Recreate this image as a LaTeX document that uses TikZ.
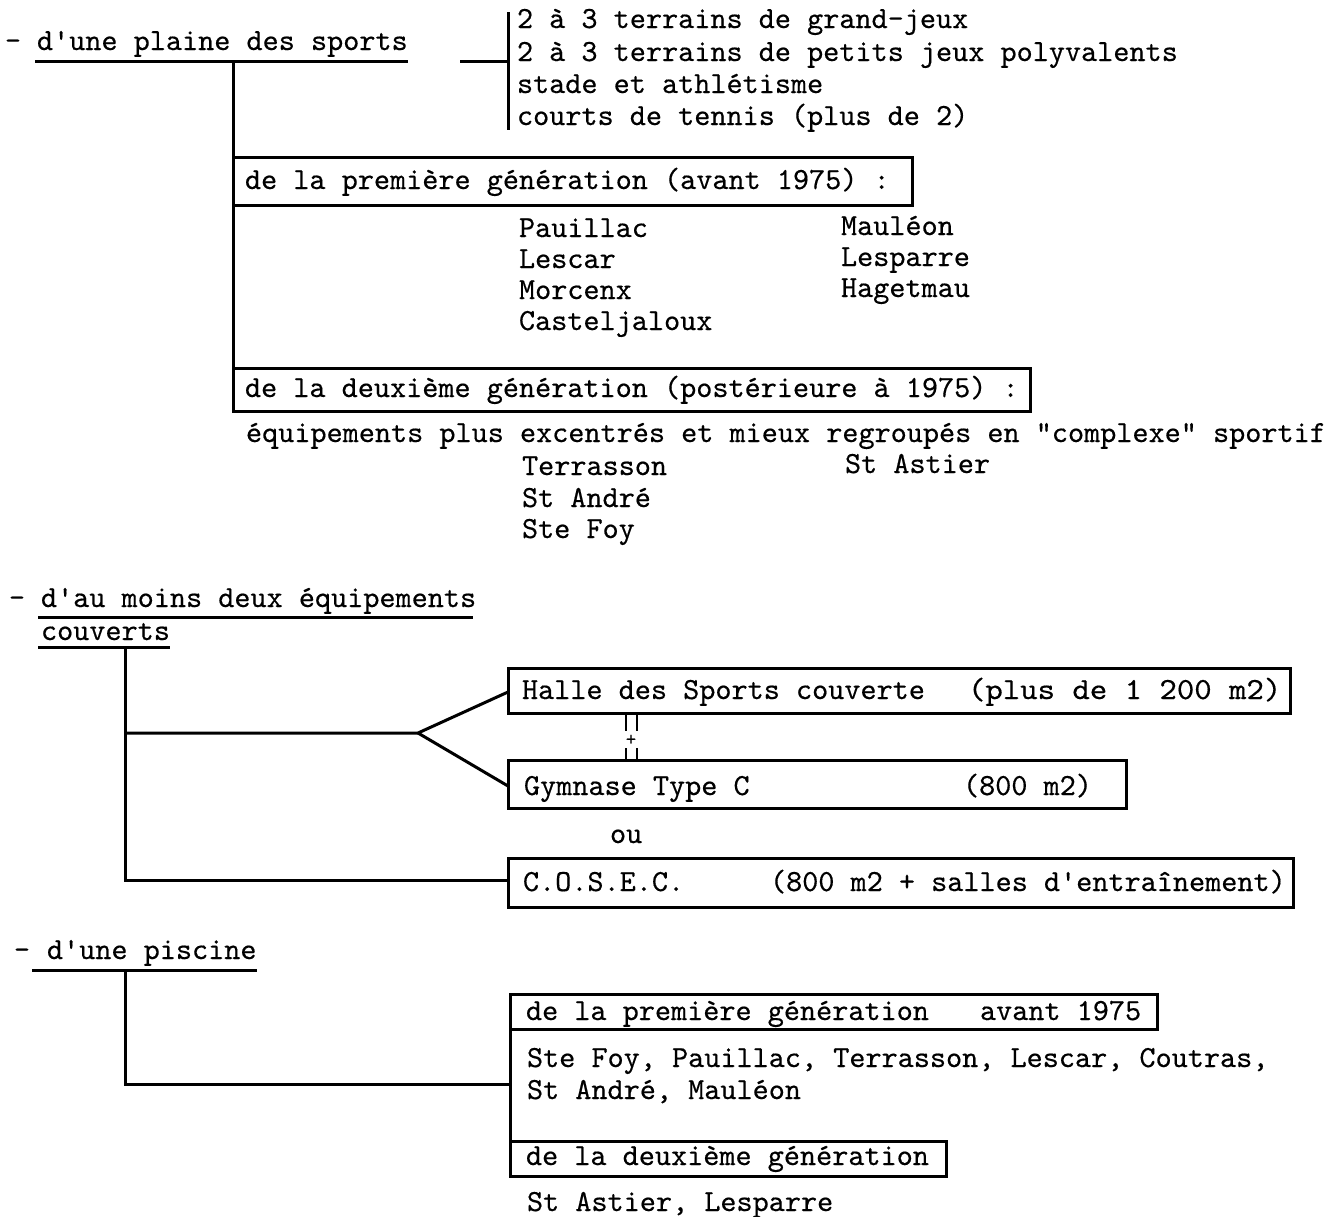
\documentclass[tikz,border=0pt]{standalone}
\usepackage{fontspec}
\usepackage{graphicx}
\setmonofont{lmmono10-regular}[Extension=.otf,FakeBold=0.4]
\begin{document}
\begin{tikzpicture}[x=1pt,y=-1pt,
  txt/.style={anchor=base west, inner sep=0pt, outer sep=0pt, font=\ttfamily\fontsize{30.7}{36}\selectfont},
  dsh/.style={anchor=base, inner sep=0pt, outer sep=0pt, font=\ttfamily\fontsize{30.7}{36}\selectfont},
  boxn/.style={draw, line width=3pt, inner sep=0pt, outer sep=0pt, anchor=north west},
  ln/.style={line width=3pt},
  thin/.style={line width=2.5pt}]
\fill[white] (0,0) rectangle (1343,1216);
\useasboundingbox (0,0) rectangle (1343,1216);

% ---------- Section 1 ----------
\node[dsh] (d1) at (13,50) {-};
\node[txt] (t1) at (37,50) {d'une plaine des sports};
\coordinate (u1a) at (35,61);
\coordinate (u1b) at (408,61);
\draw[ln] (u1a) -- (u1b);
\coordinate (s1a) at (460,61);
\coordinate (s1b) at (508,61);
\coordinate (bar1t) at (508,12);
\coordinate (bar1b) at (508,130);
\draw[ln] (s1a) -- (s1b);
\draw[ln] (bar1t) -- (bar1b);
\node[txt] (l1) at (517,28) {2 à 3 terrains de grand-jeux};
\node[txt] (l2) at (517,61) {2 à 3 terrains de petits jeux polyvalents};
\node[txt] (l3) at (517,93) {stade et athlétisme};
\node[txt] (l4) at (517,125) {courts de tennis (plus de 2)};

\node[boxn, minimum width=679pt, minimum height=48pt] (b1) at (233,157) {};
\node[txt] (b1t) at (245,189) {de la première génération (avant 1975) :};
\node[txt] (p1) at (519,237) {Pauillac};
\node[txt] (p2) at (519,268) {Lescar};
\node[txt] (p3) at (519,299) {Morcenx};
\node[txt] (p4) at (519,330) {Casteljaloux};
\node[txt] (p5) at (841,235) {Mauléon};
\node[txt] (p6) at (841,266) {Lesparre};
\node[txt] (p7) at (841,297) {Hagetmau};

\node[boxn, minimum width=797pt, minimum height=43pt] (b2) at (233,368) {};
\node[txt] (b2t) at (245,397) {de la deuxième génération (postérieure à 1975) :};
\node[txt] (eq) at (246,442) {équipements plus excentrés et mieux regroupés en "complexe" sportif};
\node[txt] (q1) at (522,475) {Terrasson};
\node[txt] (q2) at (845,473) {St Astier};
\node[txt] (q3) at (522,507) {St André};
\node[txt] (q4) at (522,538) {Ste Foy};

\coordinate (v1t) at (233,61);
\draw[ln] (v1t) -- (b2.south west);

% ---------- Section 2 ----------
\node[dsh] (d2) at (17,607) {-};
\node[txt] (t2) at (41,607) {d'au moins deux équipements};
\coordinate (u2a) at (38,617);
\coordinate (u2b) at (473,617);
\draw[ln] (u2a) -- (u2b);
\node[txt] (t2b) at (41,640) {couverts};
\coordinate (u3a) at (38,647);
\coordinate (u3b) at (170,647);
\draw[ln] (u3a) -- (u3b);

\node[boxn, minimum width=782pt, minimum height=45pt] (h) at (508,668) {};
\node[txt] (ht) at (522,699) {Halle des Sports couverte};
\node[txt] (hs) at (968,699) {\scalebox{1.08}[1]{(plus de 1 200 m2)}};

\node[boxn, minimum width=618pt, minimum height=48pt] (g) at (508,760) {};
\node[txt] (gt) at (524,795) {Gymnase Type C};
\node[txt] (gs) at (963,795) {(800 m2)};

\node[txt] (ou) at (610,843) {ou};

\node[boxn, minimum width=785pt, minimum height=49pt] (c) at (508,858) {};
\node[txt] (ct) at (523,891) {C.O.S.E.C.};
\node[txt] (cs) at (770,891) {(800 m2 + salles d'entraînement)};

% plus sign between halle and gymnase
\coordinate (pa1) at (626,713); \coordinate (pa2) at (626,731);
\coordinate (pb1) at (637,713); \coordinate (pb2) at (637,731);
\coordinate (pc1) at (626,748); \coordinate (pc2) at (626,760);
\coordinate (pd1) at (637,748); \coordinate (pd2) at (637,760);
\draw[thin] (pa1) -- (pa2);
\draw[thin] (pb1) -- (pb2);
\draw[thin] (pc1) -- (pc2);
\draw[thin] (pd1) -- (pd2);
\node[anchor=center, inner sep=0pt, font=\ttfamily\fontsize{20}{22}\selectfont] (plus) at (631,740) {+};

\coordinate (v2b) at (125,880);
\coordinate (v2t) at (125,647);
\coordinate (fk0) at (125,733);
\coordinate (fk) at (418,733);
\coordinate (ha) at (508,692);
\coordinate (ga) at (508,786);
\coordinate (ca) at (508,880);
\draw[ln] (v2t) -- (v2b) -- (ca);
\draw[ln] (fk0) -- (fk) -- (ha);
\draw[ln] (fk) -- (ga);

% ---------- Section 3 ----------
\node[dsh] (d3) at (22,959) {-};
\node[txt] (t3) at (47,959) {d'une piscine};
\coordinate (u4a) at (32,970);
\coordinate (u4b) at (257,970);
\draw[ln] (u4a) -- (u4b);

\node[boxn, minimum width=647pt, minimum height=35pt] (pA) at (510,994) {};
\node[txt] (pAt) at (526,1020) {de la première génération};
\node[txt] (pAs) at (980,1020) {avant 1975};
\node[txt] (pl1) at (527,1067) {Ste Foy, Pauillac, Terrasson, Lescar, Coutras,};
\node[txt] (pl2) at (527,1099) {St André, Mauléon};
\node[boxn, minimum width=436pt, minimum height=35pt] (pB) at (510,1141) {};
\node[txt] (pBt) at (526,1165) {de la deuxième génération};
\node[txt] (pl3) at (527,1211) {St Astier, Lesparre};

\draw[ln] (pA.south west) -- (pB.north west);
\coordinate (v3t) at (125,970);
\coordinate (v3b) at (125,1084);
\coordinate (pa) at (510,1084);
\draw[ln] (v3t) -- (v3b) -- (pa);
\end{tikzpicture}
\end{document}
